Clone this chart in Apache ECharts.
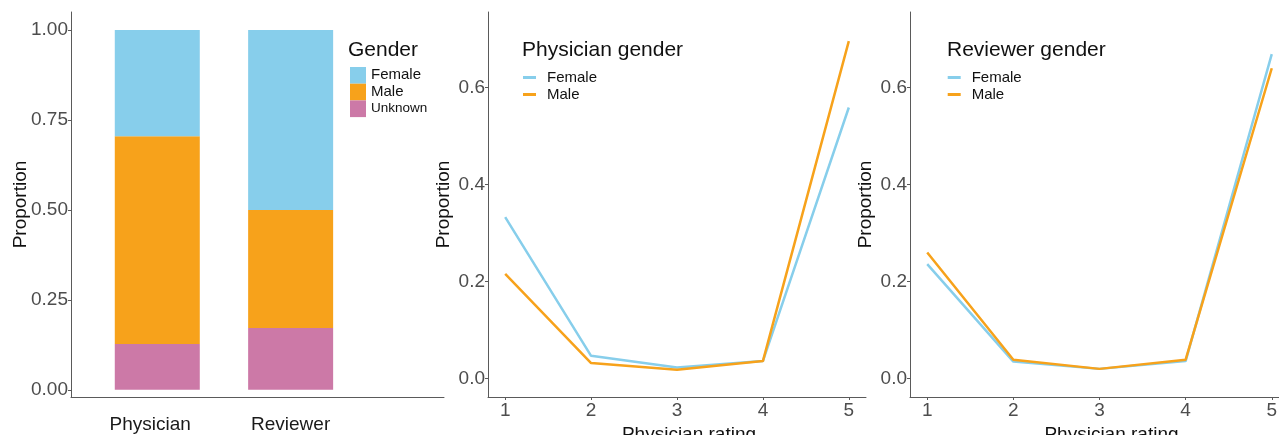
<!DOCTYPE html>
<html>
<head>
<meta charset="utf-8">
<script src="https://cdn.jsdelivr.net/npm/echarts@6/dist/echarts.min.js"></script>
<style>
html,body{margin:0;padding:0;background:#fff;}
#c{width:1279px;height:435px;}
</style>
</head>
<body>
<div id="c"></div>
<script>
// ---- data ----
const categories = ['Physician', 'Reviewer'];
const barUnknown = [0.127, 0.172];
const barMale = [0.578, 0.328];
const barFemale = [0.295, 0.500];
const yTicks1 = [0, 0.25, 0.5, 0.75, 1];
const ratings = [1, 2, 3, 4, 5];
const physFemale = [0.333, 0.047, 0.023, 0.036, 0.559];
const physMale = [0.216, 0.032, 0.018, 0.036, 0.696];
const revFemale = [0.236, 0.035, 0.020, 0.036, 0.669];
const revMale = [0.260, 0.039, 0.020, 0.039, 0.640];
const yTicks2 = [0, 0.2, 0.4, 0.6];

const C_F = '#87CEEB', C_M = '#F7A21B', C_U = '#CC79A7';
const FONT = '"Liberation Sans", Arial, Helvetica, sans-serif';
const AX = '#5a5a5a', TICKTXT = '#4D4D4D';

const chart = echarts.init(document.getElementById('c'), null, {renderer: 'canvas'});

function yAxisCfg(gi, min, max, ticks, dec, gap, moveOverlap) {
  return {
    type: 'value', gridIndex: gi, min: min, max: max,
    splitLine: {show: false},
    axisLine: {show: true, onZero: false, lineStyle: {color: AX, width: 1}},
    axisTick: {show: true, length: 3, lineStyle: {color: AX}, customValues: ticks},
    axisLabel: {show: true, customValues: ticks, color: TICKTXT, fontSize: 19, fontFamily: FONT, margin: 3,
      formatter: v => v.toFixed(dec)},
    name: 'Proportion', nameLocation: 'middle', nameGap: gap, nameRotate: 90,
    nameMoveOverlap: moveOverlap,
    nameTextStyle: {color: '#111', fontSize: 19, fontFamily: FONT}
  };
}
function xAxisRating(gi) {
  return {
    type: 'value', gridIndex: gi, min: 0.8, max: 5.2,
    splitLine: {show: false},
    axisLine: {show: true, onZero: false, lineStyle: {color: AX, width: 1}},
    axisTick: {show: true, length: 3, lineStyle: {color: AX}, customValues: ratings},
    axisLabel: {show: true, customValues: ratings, color: TICKTXT, fontSize: 19, fontFamily: FONT, margin: 4,
      formatter: v => String(Math.round(v))},
    name: 'Physician rating', nameLocation: 'middle', nameGap: 19,
    nameTextStyle: {color: '#111', fontSize: 19, fontFamily: FONT, padding: [0, 0, 0, 24]}
  };
}
function toXY(xs, ys) { return xs.map((x, i) => [x, ys[i]]); }
// value first, position second (so the library stacks the value dimension)
function toYX(xs, ys) { return xs.map((x, i) => [ys[i], x]); }

const option = {
  backgroundColor: '#fff',
  animation: false,
  grid: [
    {left: 71, top: 12, width: 373, height: 385, outerBoundsMode: 'none'},
    {left: 488, top: 12, width: 378, height: 385, outerBoundsMode: 'none'},
    {left: 910, top: 12, width: 379, height: 385, outerBoundsMode: 'none'}
  ],
  title: [
    {text: 'Gender', left: 348, top: 40, textStyle: {fontSize: 21, fontWeight: 'normal', color: '#111', fontFamily: FONT}, padding: 0},
    {text: 'Physician gender', left: 522, top: 40, textStyle: {fontSize: 21, fontWeight: 'normal', color: '#111', fontFamily: FONT}, padding: 0},
    {text: 'Reviewer gender', left: 947, top: 40, textStyle: {fontSize: 21, fontWeight: 'normal', color: '#111', fontFamily: FONT}, padding: 0}
  ],
  legend: [
    {data: ['Female', 'Male', 'Unknown'], orient: 'vertical', left: 350, top: 67, padding: 0,
      icon: 'rect', itemWidth: 16, itemHeight: 16.7, itemGap: 0, selectedMode: false,
      textStyle: {fontSize: 15, color: '#111', fontFamily: FONT, lineHeight: 16.7,
        rich: {s: {fontSize: 13.5, color: '#111', fontFamily: FONT}}},
      formatter: n => n === 'Unknown' ? '{s|Unknown}' : n},
    {data: ['Female', 'Male'], orient: 'vertical', left: 523, top: 69, padding: 0,
      icon: 'rect', itemWidth: 13, itemHeight: 3, itemGap: 0, selectedMode: false,
      textStyle: {fontSize: 15, color: '#111', fontFamily: FONT, lineHeight: 17, padding: [0, 0, 0, 6]}},
    {data: ['Female', 'Male'], orient: 'vertical', left: 947.7, top: 69, padding: 0,
      icon: 'rect', itemWidth: 13, itemHeight: 3, itemGap: 0, selectedMode: false,
      textStyle: {fontSize: 15, color: '#111', fontFamily: FONT, lineHeight: 17, padding: [0, 0, 0, 6]}}
  ],
  xAxis: [
    {type: 'value', gridIndex: 0, min: 0.353, max: 3.15,
      splitLine: {show: false},
      axisLine: {show: true, onZero: false, lineStyle: {color: AX, width: 1}},
      axisTick: {show: false},
      axisLabel: {show: true, customValues: [1, 2], color: '#1a1a1a', fontSize: 19, fontFamily: FONT, margin: 18,
        formatter: v => Math.round(v) === 1 ? '{a|' + categories[0] + '}' : '{b|' + categories[1] + '}',
        rich: {
          a: {fontSize: 19, color: '#1a1a1a', fontFamily: FONT, padding: [0, 14, 0, 0]},
          b: {fontSize: 19, color: '#1a1a1a', fontFamily: FONT}
        }}},
    xAxisRating(1),
    xAxisRating(2)
  ],
  yAxis: [
    yAxisCfg(0, -0.02, 1.05, yTicks1, 2, 41, false),
    yAxisCfg(1, -0.038, 0.756, yTicks2, 1, 35, true),
    yAxisCfg(2, -0.038, 0.756, yTicks2, 1, 35, true)
  ],
  series: [
    {name: 'Unknown', type: 'bar', xAxisIndex: 0, yAxisIndex: 0, stack: 'g', barWidth: 85,
      encode: {x: 1, y: 0}, itemStyle: {color: C_U}, data: toYX([1, 2], barUnknown)},
    {name: 'Male', type: 'bar', xAxisIndex: 0, yAxisIndex: 0, stack: 'g', barWidth: 85,
      encode: {x: 1, y: 0}, itemStyle: {color: C_M}, data: toYX([1, 2], barMale)},
    {name: 'Female', type: 'bar', xAxisIndex: 0, yAxisIndex: 0, stack: 'g', barWidth: 85,
      encode: {x: 1, y: 0}, itemStyle: {color: C_F}, data: toYX([1, 2], barFemale)},
    {name: 'Female', type: 'line', xAxisIndex: 1, yAxisIndex: 1, showSymbol: false,
      lineStyle: {color: C_F, width: 2.5}, itemStyle: {color: C_F}, data: toXY(ratings, physFemale)},
    {name: 'Male', type: 'line', xAxisIndex: 1, yAxisIndex: 1, showSymbol: false,
      lineStyle: {color: C_M, width: 2.5}, itemStyle: {color: C_M}, data: toXY(ratings, physMale)},
    {name: 'Female', type: 'line', xAxisIndex: 2, yAxisIndex: 2, showSymbol: false,
      lineStyle: {color: C_F, width: 2.5}, itemStyle: {color: C_F}, data: toXY(ratings, revFemale)},
    {name: 'Male', type: 'line', xAxisIndex: 2, yAxisIndex: 2, showSymbol: false,
      lineStyle: {color: C_M, width: 2.5}, itemStyle: {color: C_M}, data: toXY(ratings, revMale)}
  ]
};
chart.setOption(option);
</script>
</body>
</html>
